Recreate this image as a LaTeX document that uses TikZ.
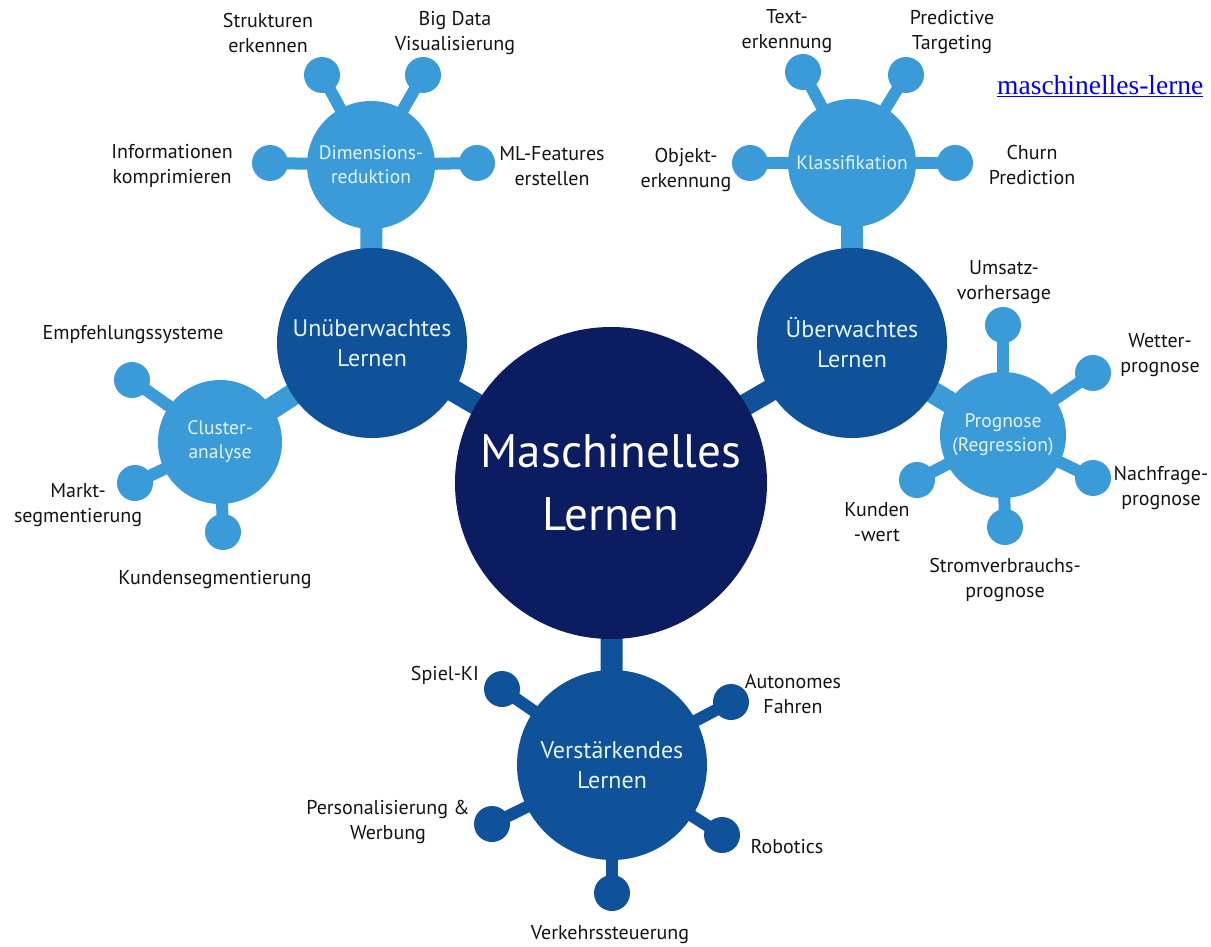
\documentclass[tikz,border=0pt]{standalone}
\usepackage{fontspec}
\setmainfont{PT Sans}
\newfontfamily\linkfont{Liberation Serif}
\usetikzlibrary{backgrounds}
\definecolor{lightb}{HTML}{3A9BD8}
\definecolor{midb}{HTML}{10529A}
\definecolor{navyb}{HTML}{0B1C60}
\definecolor{hubtxt}{HTML}{E3F3FB}
\definecolor{lbl}{HTML}{141414}
\definecolor{linkblue}{HTML}{0000EE}
\begin{document}
\begin{tikzpicture}[x=1pt,y=-1pt,
  sat/.style={circle,fill=#1,minimum size=36pt,inner sep=0pt},
  lhub/.style={circle,fill=lightb,minimum size=128pt,inner sep=0pt,text=hubtxt,align=center,font=\fontsize{19.5}{24}\selectfont},
  dhub/.style={circle,fill=midb,minimum size=190pt,inner sep=0pt,text=hubtxt,align=center,font=\fontsize{24}{30}\selectfont},
  mainhub/.style={circle,fill=navyb,minimum size=312pt,inner sep=0pt,text=white,align=center,font=\fontsize{47}{63}\selectfont},
  stub/.style={line width=12pt,draw=#1},
  stem/.style={line width=22pt,draw=#1},
  lab/.style={text=lbl,align=center,font=\fontsize{20}{24.5}\selectfont,inner sep=0pt}
]
\useasboundingbox (0,0) rectangle (1211,947);

% main hubs
\node[mainhub] (ml) at (611,483) {Maschinelles\\Lernen};
\node[dhub] (unu) at (372,343) {Unüberwachtes\\Lernen};
\node[dhub] (ueb) at (852,343) {Überwachtes\\Lernen};
\node[dhub] (ver) at (612,765) {Verstärkendes\\Lernen};

% secondary hubs
\node[lhub] (dim) at (371,165) {Dimensions-\\reduktion};
\node[lhub] (kla) at (852,163) {Klassifikation};
\node[lhub,minimum size=124pt] (clu) at (220,442) {Cluster-\\analyse};
\node[lhub,minimum size=126pt] (pro) at (1003,435) {Prognose\\(Regression)};

% satellites: Dimensionsreduktion
\node[sat=lightb] (d1) at (322,75) {};
\node[sat=lightb] (d2) at (423,75) {};
\node[sat=lightb] (d3) at (270,163) {};
\node[sat=lightb] (d4) at (477,163) {};
% Klassifikation
\node[sat=lightb] (k1) at (803,72) {};
\node[sat=lightb] (k2) at (906,75) {};
\node[sat=lightb] (k3) at (750,163) {};
\node[sat=lightb] (k4) at (955,163) {};
% Clusteranalyse
\node[sat=lightb] (c1) at (132,380) {};
\node[sat=lightb] (c2) at (135,483) {};
\node[sat=lightb] (c3) at (223,532) {};
% Prognose
\node[sat=lightb] (p1) at (1003,325) {};
\node[sat=lightb] (p2) at (1093,373) {};
\node[sat=lightb] (p3) at (1093,478) {};
\node[sat=lightb] (p4) at (1005,527) {};
\node[sat=lightb] (p5) at (917,480) {};
% Verstaerkendes Lernen
\node[sat=midb] (v1) at (502,689) {};
\node[sat=midb] (v2) at (731,702) {};
\node[sat=midb] (v3) at (492,824) {};
\node[sat=midb] (v4) at (722,835) {};
\node[sat=midb] (v5) at (612,893) {};

\begin{scope}[on background layer]
\fill[white] (0,0) rectangle (1211,947);
\draw[stem=midb] (ml.center) -- (unu.center);
\draw[stem=midb] (ml.center) -- (ueb.center);
\draw[stem=midb] (ml.center) -- (ver.center);
\draw[stem=lightb] (unu.center) -- (dim.center);
\draw[stem=lightb] (unu.center) -- (clu.center);
\draw[stem=lightb] (ueb.center) -- (kla.center);
\draw[stem=lightb] (ueb.center) -- (pro.center);
\foreach \s in {d1,d2,d3,d4} \draw[stub=lightb] (dim.center) -- (\s.center);
\foreach \s in {k1,k2,k3,k4} \draw[stub=lightb] (kla.center) -- (\s.center);
\foreach \s in {c1,c2,c3} \draw[stub=lightb] (clu.center) -- (\s.center);
\foreach \s in {p1,p2,p3,p4,p5} \draw[stub=lightb] (pro.center) -- (\s.center);
\foreach \s in {v1,v2,v3,v4,v5} \draw[stub=midb] (ver.center) -- (\s.center);
\end{scope}

% labels
\node[lab] (ld1) at (268,33) {Strukturen\\erkennen};
\node[lab] (ld2) at (455,33) {Big Data\\Visualisierung};
\node[lab] (ld3) at (172,166) {Informationen\\komprimieren};
\node[lab] (ld4) at (552,166) {ML-Features\\erstellen};
\node[lab] (lk1) at (787,31) {Text-\\erkennung};
\node[lab] (lk2) at (952,32) {Predictive\\Targeting};
\node[lab] (lk3) at (686,170) {Objekt-\\erkennung};
\node[lab] (lk4) at (1032,165) {Churn\\Prediction};
\node[lab] (lp1) at (1004,282) {Umsatz-\\vorhersage};
\node[lab] (lp2) at (1160,355) {Wetter-\\prognose};
\node[lab] (lp3) at (1161,488) {Nachfrage-\\prognose};
\node[lab] (lp5) at (877,522) {Kunden\\-wert};
\node[lab] (lp4) at (1005,580) {Stromverbrauchs-\\prognose};
\node[lab] (lc1) at (133,335) {Empfehlungssysteme};
\node[lab] (lc2) at (78,505) {Markt-\\segmentierung};
\node[lab] (lc3) at (215,580) {Kundensegmentierung};
\node[lab] (lv1) at (445,675) {Spiel-KI};
\node[lab] (lv2) at (793,694) {Autonomes\\Fahren};
\node[lab] (lv3) at (388,822) {Personalisierung \&\\Werbung};
\node[lab] (lv4) at (787,847) {Robotics};
\node[lab] (lv5) at (610,935) {Verkehrssteuerung};

% link text (as far as the reference shows it)
\node[anchor=base west,inner sep=0pt,text=linkblue,font=\linkfont\fontsize{27.5}{30}\selectfont] (link) at (997,95) {\underline{maschinelles-lerne}};
\end{tikzpicture}
\end{document}
